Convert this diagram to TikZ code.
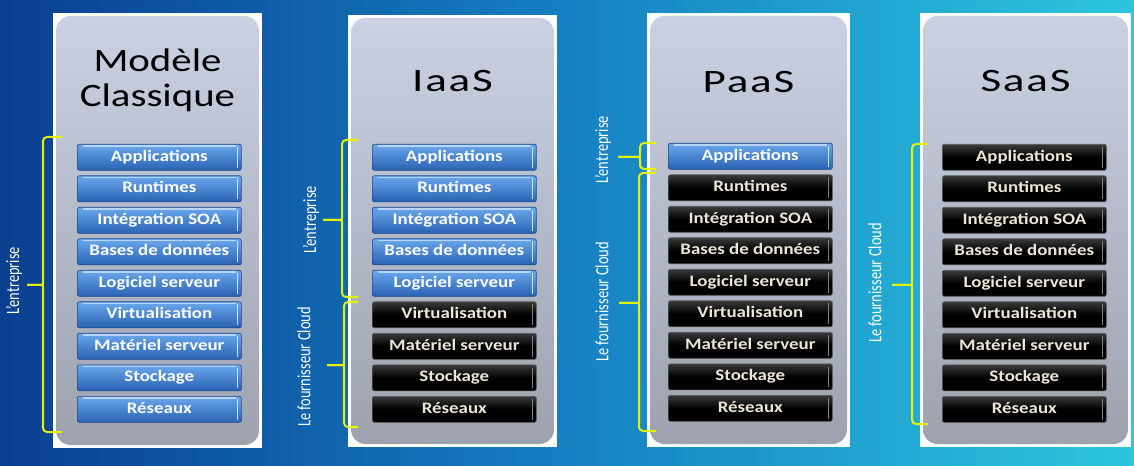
\documentclass[tikz,border=0pt]{standalone}
\usepackage{fontspec}
\setmainfont{Carlito}
\usepackage{graphicx}
\definecolor{bgleft}{HTML}{0A3F8F}
\definecolor{bgmid}{HTML}{1680C2}
\definecolor{bgright}{HTML}{2CC6DE}
\definecolor{paneltop}{HTML}{C9D1E3}
\definecolor{panelmid}{HTML}{B9BFCE}
\definecolor{panelbot}{HTML}{9EA2AE}
\definecolor{bluetop}{HTML}{6AA8EC}
\definecolor{bluebot}{HTML}{2A62B2}
\definecolor{blueedge}{HTML}{1D4A8E}
\definecolor{blacktop}{HTML}{3A3A3A}
\definecolor{blackbot}{HTML}{000000}
\definecolor{braceyellow}{HTML}{E2F200}
\definecolor{blacktext}{HTML}{EDE6D6}
\newcommand\boxtext[1]{\scalebox{1.18}[1]{#1}}
\newcommand\titletext[1]{\scalebox{1.25}[1]{#1}}
\newcommand\shorttitle[1]{\scalebox{1.38}[1]{\addfontfeature{LetterSpace=4}#1}}
\newcommand\sidetext[1]{\scalebox{1}[1.3]{#1}}
\newcommand\curlybrace[6]{%
  \draw[bracestyle] (#1,#4) -- (#2,#4) -- (#2,#5-6) .. controls (#2,#5) .. (#2-6,#5) -- (#3,#5);
  \draw[bracestyle] (#3,#5) -- (#2-6,#5) .. controls (#2,#5) .. (#2,#5+6) -- (#2,#6) -- (#1,#6);}
\tikzset{
  layerbase/.style={anchor=north west, minimum width=123pt, minimum height=19.5pt,
    inner sep=0pt, rounded corners=1.5pt, line width=0.5pt,
    font=\bfseries\fontsize{12}{12}\selectfont, text height=1.45ex, text depth=0.2ex},
  bluebox/.style={layerbase, top color=bluetop, bottom color=bluebot, draw=blueedge, text=white,
    path picture={
      \draw[white, opacity=0.55, line width=0.9pt]
        ([xshift=4pt,yshift=-1.2pt]path picture bounding box.north west) --
        ([xshift=-4pt,yshift=-1.2pt]path picture bounding box.north east);
      \draw[white!75!cyan, line width=1.1pt]
        ([xshift=-3pt,yshift=-2pt]path picture bounding box.north east) --
        ([xshift=-3pt,yshift=2pt]path picture bounding box.south east);}},
  blackbox/.style={layerbase, top color=blacktop, bottom color=blackbot, middle color=black,
    draw=gray!70!black, text=blacktext,
    path picture={
      \draw[gray, line width=1.1pt]
        ([xshift=-3pt,yshift=-2pt]path picture bounding box.north east) --
        ([xshift=-3pt,yshift=2pt]path picture bounding box.south east);}},
  title/.style={anchor=base, text=black, font=\fontsize{24.5}{26}\selectfont},
  sidelabel/.style={rotate=90, text=white, font=\fontsize{10.8}{12}\selectfont, inner sep=0pt},
  bracestyle/.style={draw=braceyellow, line width=1.5pt, rounded corners=3pt},
}
\begin{document}
\begin{tikzpicture}[x=0.75pt, y=-0.75pt]
\useasboundingbox (0,0) rectangle (1134,466);
% background
\shade[left color=bgleft, right color=bgright, middle color=bgmid] (0,0) rectangle (1134,466);
% panels
\foreach \xa/\xb/\ya/\yb in {53/262/13/448, 348/557/15/447, 647/850/13/447, 920/1131/13/447}{
  \fill[white] (\xa,\ya) rectangle (\xb,\yb);
  \shade[rounded corners=11pt, top color=paneltop, middle color=panelmid, bottom color=panelbot]
    (\xa+3,\ya+3) rectangle (\xb-3,\yb-3);
}
% titles
\node[title] (tm1) at (157.5,72) {\titletext{Modèle}};
\node[title] (tm2) at (157.5,107) {\titletext{Classique}};
\node[title] (ti) at (452.5,92) {\shorttitle{IaaS}};
\node[title] (tp) at (748.5,93) {\shorttitle{PaaS}};
\node[title] (ts) at (1025.5,92) {\shorttitle{SaaS}};
% layers
\foreach \t [count=\k] in {Applications,Runtimes,Intégration SOA,Bases de données,Logiciel serveur,Virtualisation,Matériel serveur,Stockage,Réseaux}{
  \pgfmathsetmacro\yy{144+(\k-1)*31.5}
  \pgfmathsetmacro\yp{143+(\k-1)*31.5}
  \node[bluebox] (m\k) at (77,\yy) {\boxtext{\t}};
  \ifnum\k<6 \def\sti{bluebox}\else\def\sti{blackbox}\fi
  \node[\sti] (i\k) at (372,\yy) {\boxtext{\t}};
  \ifnum\k<2 \def\stp{bluebox}\else\def\stp{blackbox}\fi
  \node[\stp] (p\k) at (668,\yp) {\boxtext{\t}};
  \node[blackbox] (s\k) at (942,\yy) {\boxtext{\t}};
}
% braces
\curlybrace{62}{43}{27}{137}{285}{432}
\curlybrace{358}{342}{323}{140}{220}{297}
\curlybrace{358}{344}{327}{302}{365}{427}
\curlybrace{656}{640}{618}{143}{157}{169}
\curlybrace{656}{639}{619}{173}{303}{431}
\curlybrace{928}{912}{892}{144}{285}{424}
% side labels
\node[sidelabel] (lm) at (14,281) {\sidetext{L’entreprise}};
\node[sidelabel] (li1) at (311,220) {\sidetext{L’entreprise}};
\node[sidelabel] (li2) at (304,367) {\sidetext{Le fournisseur Cloud}};
\node[sidelabel] (lp1) at (603,150) {\sidetext{L’entreprise}};
\node[sidelabel] (lp2) at (602,302) {\sidetext{Le fournisseur Cloud}};
\node[sidelabel] (ls) at (875,283) {\sidetext{Le fournisseur Cloud}};
\end{tikzpicture}
\end{document}
